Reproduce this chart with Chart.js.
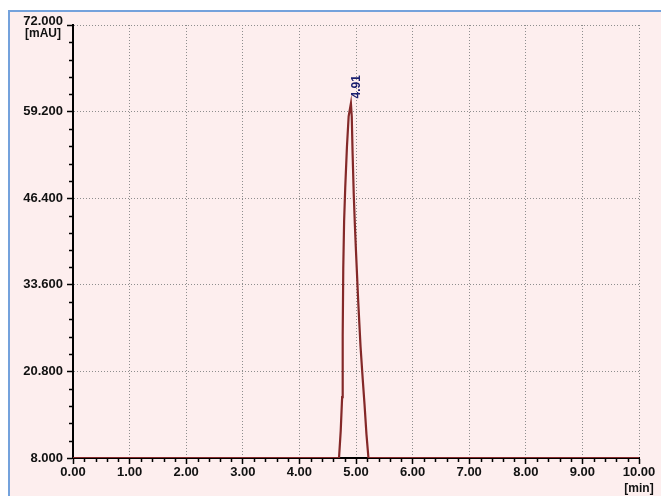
<!DOCTYPE html>
<html>
<head>
<meta charset="utf-8">
<script src="https://cdn.jsdelivr.net/npm/chart.js@4.4.1/dist/chart.umd.min.js"></script>
<style>
  html, body { margin: 0; padding: 0; background: #ffffff; }
  #wrap { width: 661px; height: 496px; }
</style>
</head>
<body>
<div id="wrap"><canvas id="chrom" width="661" height="496"></canvas></div>
<script>
// Retention time (min) and detector response (mAU)
const retentionTime = [0, 4.70, 4.73, 4.755, 4.765, 4.775, 4.79, 4.81, 4.84, 4.87, 4.91,
  4.925, 4.94, 4.96, 4.98, 5.00, 5.04, 5.08, 5.12, 5.15, 5.185, 5.22, 10];
const absorbance = [8, 8, 12, 17, 26, 36, 43, 48, 54, 58.5, 60.4,
  58.5, 53, 47, 42.5, 38.5, 31, 24.5, 19.5, 16, 11.5, 8, 8];

// Axis ticks
const xTicks = [0, 1, 2, 3, 4, 5, 6, 7, 8, 9, 10];
const xLabels = ['0.00', '1.00', '2.00', '3.00', '4.00', '5.00', '6.00', '7.00', '8.00', '9.00', '10.00'];
const yTicks = [8, 20.8, 33.6, 46.4, 59.2, 72];
const yLabels = ['8.000', '20.800', '33.600', '46.400', '59.200', '72.000'];
const xUnit = '[min]';
const yUnit = '[mAU]';

// Peak annotation
const peakTime = 4.91;
const peakHeight = 60.4;
const peakLabel = '4.91';

const fontFamily = '"Liberation Sans", Arial, sans-serif';
const tickFont = { family: fontFamily, size: 13, weight: 'bold' };
const topIndex = yTicks.length - 1;

const framePlugin = {
  id: 'frame',
  beforeDraw(chart) {
    const ctx = chart.ctx;
    ctx.save();
    ctx.fillStyle = '#ffffff';
    ctx.fillRect(0, 0, chart.width, chart.height);
    ctx.fillStyle = '#fdeeee';
    ctx.fillRect(10, 12, chart.width - 10, chart.height - 12);
    ctx.strokeStyle = '#74a2dc';
    ctx.lineWidth = 2;
    ctx.beginPath();
    ctx.moveTo(9, chart.height);
    ctx.lineTo(9, 11);
    ctx.lineTo(chart.width, 11);
    ctx.stroke();
    ctx.restore();
  }
};

const extrasPlugin = {
  id: 'extras',
  afterDraw(chart) {
    const ctx = chart.ctx;
    const xs = chart.scales.x, ys = chart.scales.y;
    const area = chart.chartArea;
    ctx.save();
    // minor ticks
    ctx.strokeStyle = '#000000';
    ctx.lineWidth = 1.5;
    ctx.beginPath();
    for (let i = 0; i < xTicks.length - 1; i++) {
      const step = (xTicks[i + 1] - xTicks[i]) / 5;
      for (let k = 1; k < 5; k++) {
        const px = Math.round(xs.getPixelForValue(xTicks[i] + k * step)) + 0.5;
        ctx.moveTo(px, area.bottom);
        ctx.lineTo(px, area.bottom + 4);
      }
    }
    for (let i = 0; i < yTicks.length - 1; i++) {
      const step = (yTicks[i + 1] - yTicks[i]) / 5;
      for (let k = 1; k < 5; k++) {
        const py = Math.round(ys.getPixelForValue(yTicks[i] + k * step)) + 0.5;
        ctx.moveTo(area.left, py);
        ctx.lineTo(area.left - 4, py);
      }
    }
    ctx.stroke();

    // top y label with unit beneath it
    const topY = ys.getPixelForValue(yTicks[topIndex]);
    ctx.fillStyle = '#111111';
    ctx.textAlign = 'right';
    ctx.textBaseline = 'middle';
    ctx.font = 'bold 13px ' + fontFamily;
    ctx.fillText(yLabels[topIndex], area.left - 10, topY - 4);
    ctx.font = 'bold 12px ' + fontFamily;
    ctx.fillText(yUnit, area.left - 12, topY + 9);
    // x unit beneath last x label
    ctx.textAlign = 'center';
    ctx.fillText(xUnit, xs.getPixelForValue(xTicks[xTicks.length - 1]), area.bottom + 31);

    // peak retention label
    const px = xs.getPixelForValue(peakTime);
    const py = ys.getPixelForValue(peakHeight);
    ctx.translate(px + 6, py - 5);
    ctx.rotate(-Math.PI / 2);
    ctx.fillStyle = '#1b2070';
    ctx.font = 'bold 12px ' + fontFamily;
    ctx.textAlign = 'left';
    ctx.textBaseline = 'middle';
    ctx.fillText(peakLabel, 0, 0);
    ctx.restore();
  }
};

new Chart(document.getElementById('chrom'), {
  type: 'scatter',
  data: {
    datasets: [{
      data: retentionTime.map((t, i) => ({ x: t, y: absorbance[i] })),
      showLine: true,
      borderColor: '#842828',
      borderWidth: 2.2,
      pointRadius: 0,
      tension: 0,
      fill: false
    }]
  },
  options: {
    responsive: false,
    devicePixelRatio: 1,
    animation: false,
    events: [],
    layout: { padding: { top: 25, right: 22, left: 0, bottom: 0 } },
    plugins: { legend: { display: false }, tooltip: { enabled: false } },
    scales: {
      x: {
        type: 'linear',
        min: 0,
        max: 10,
        afterBuildTicks(scale) { scale.ticks = xTicks.map(v => ({ value: v })); },
        afterFit(scale) { scale.height = 38; },
        ticks: {
          autoSkip: false,
          maxRotation: 0,
          minRotation: 0,
          padding: 1,
          color: '#111111',
          font: tickFont,
          callback: (v, i) => xLabels[i]
        },
        grid: {
          color: '#8e8e8e',
          lineWidth: 1,
          tickLength: 6,
          tickColor: '#000000',
          tickWidth: 1.5,
          tickBorderDash: []
        },
        border: { display: true, color: '#000000', width: 2, dash: [1, 2] }
      },
      y: {
        type: 'linear',
        min: 8,
        max: 72,
        afterBuildTicks(scale) { scale.ticks = yTicks.map(v => ({ value: v })); },
        afterFit(scale) { scale.width = 73; },
        ticks: {
          autoSkip: false,
          padding: 4,
          color: '#111111',
          font: tickFont,
          // the top label is drawn together with its unit line
          callback: (v, i) => (i === topIndex ? '' : yLabels[i])
        },
        grid: {
          color: '#8e8e8e',
          lineWidth: 1,
          tickLength: 6,
          tickColor: '#000000',
          tickWidth: 1.5,
          tickBorderDash: []
        },
        border: { display: true, color: '#000000', width: 2, dash: [1, 2] }
      }
    }
  },
  plugins: [framePlugin, extrasPlugin]
});
</script>
</body>
</html>
